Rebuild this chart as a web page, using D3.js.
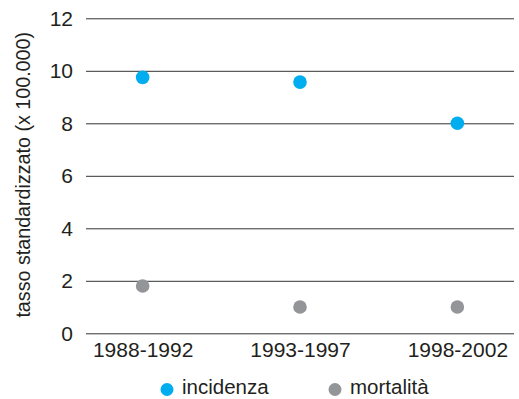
<!DOCTYPE html>
<html><head><meta charset="utf-8">
<script src="https://cdn.jsdelivr.net/npm/d3@7"></script>
<style>body{margin:0;background:#fff}svg{display:block}text{font-family:"Liberation Sans",Arial,sans-serif;fill:#231f20}</style>
</head><body>
<svg id="c" width="519" height="399"></svg>
<script>
const categories = ["1988-1992","1993-1997","1998-2002"];
const incidenza = [9.75, 9.57, 8.0];
const mortalita = [1.8, 1.0, 1.0];
const yTicks = [0,2,4,6,8,10,12];
const seriesNames = ["incidenza","mortalità"];
const colors = ["#00aeef","#939598"];

const svg = d3.select("#c");
const x0 = 86, x1 = 514, yTop = 18.3, yBot = 333.3;
const x = d3.scalePoint().domain(categories).range([x0,x1]).padding(0.36);
const y = d3.scaleLinear().domain([0,12]).range([yBot,yTop]);

const yAxis = svg.append("g").attr("transform",`translate(${x0},0)`)
  .call(d3.axisLeft(y).tickValues(yTicks).tickSize(-(x1-x0)).tickPadding(13).tickFormat(d3.format("d")));
yAxis.select(".domain").remove();
yAxis.selectAll(".tick line").attr("stroke","#333").attr("stroke-width",1);
yAxis.selectAll(".tick text").attr("font-size",21).style("font-family","Liberation Sans, Arial, sans-serif").attr("fill","#231f20");

const xAxis = svg.append("g").attr("transform",`translate(0,${yBot})`)
  .call(d3.axisBottom(x).tickSize(0).tickPadding(9));
xAxis.select(".domain").remove();
xAxis.selectAll(".tick text").attr("font-size",21).style("font-family","Liberation Sans, Arial, sans-serif").attr("fill","#231f20");

svg.append("text").attr("transform",`translate(30,${(yTop+yBot)/2 - 1}) rotate(-90)`)
  .attr("text-anchor","middle").attr("font-size",19.7).text("tasso standardizzato (x 100.000)");

[incidenza, mortalita].forEach((vals,i)=>{
  svg.append("g").selectAll("circle").data(vals).join("circle")
    .attr("cx",(d,j)=>x(categories[j])).attr("cy",d=>y(d)).attr("r",6.8).attr("fill",colors[i]);
});

const legendX = [167, 335];
const lg = svg.append("g");
seriesNames.forEach((n,i)=>{
  lg.append("circle").attr("cx",legendX[i]).attr("cy",389.5).attr("r",6.5).attr("fill",colors[i]);
  lg.append("text").attr("x",legendX[i]+15).attr("y",394).attr("font-size",20.5).text(n);
});
</script>
</body></html>
